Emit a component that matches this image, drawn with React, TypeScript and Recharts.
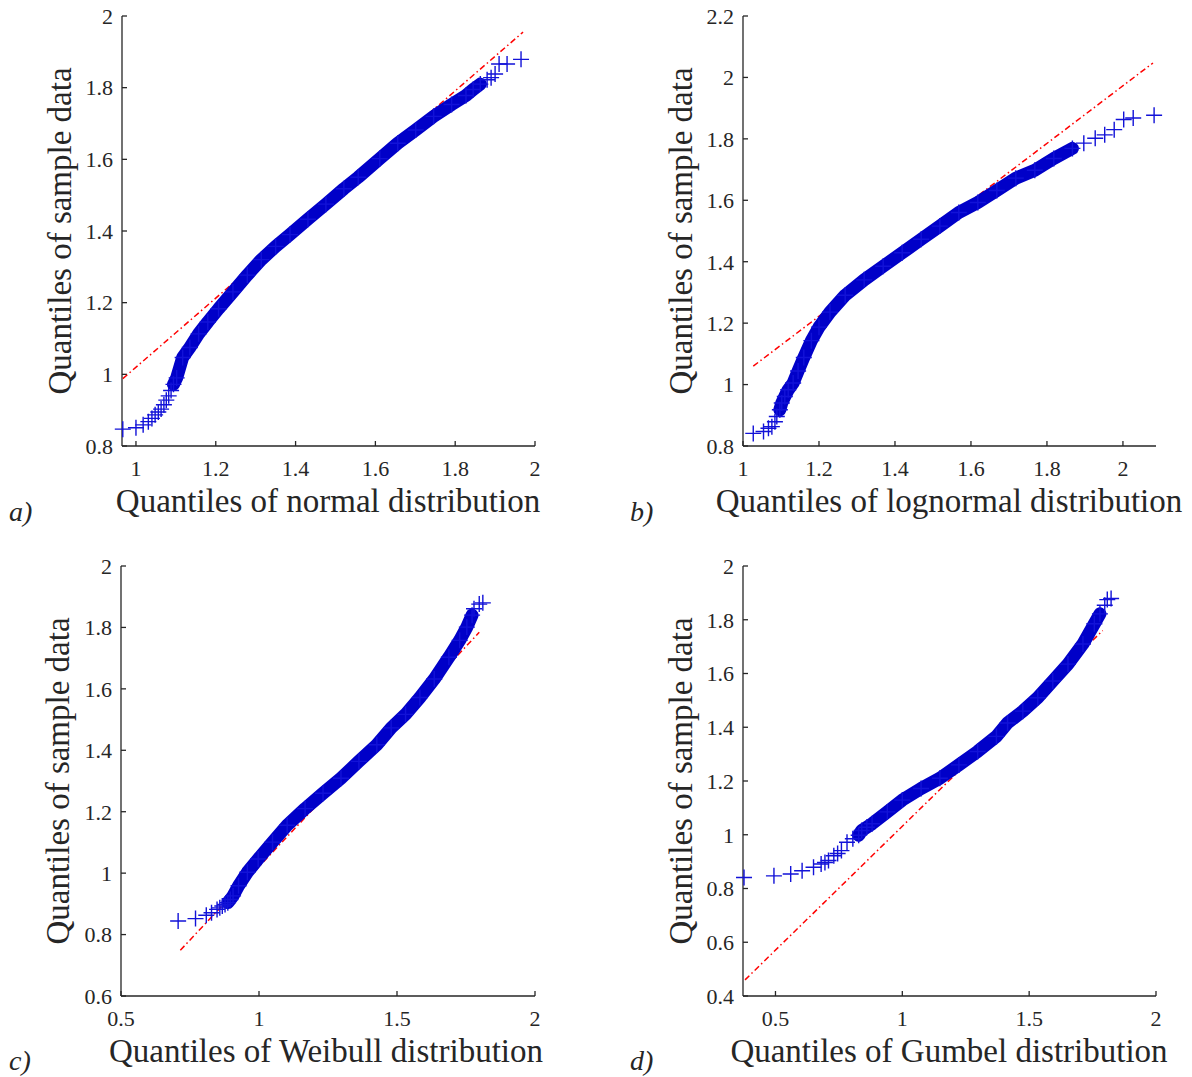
import React from 'react';
import { ScatterChart, Scatter, XAxis, YAxis } from 'recharts';

const SERIF = '"Liberation Serif", "Times New Roman", serif';
const INK = '#262626';

// a) normal
const normalX = [0.967, 1.0, 1.018, 1.031, 1.04, 1.048, 1.056, 1.063, 1.07, 1.076, 1.082, 1.088, 1.094, 1.102, 1.117, 1.135, 1.157, 1.18, 1.207, 1.243, 1.279, 1.314, 1.35, 1.386, 1.431, 1.476, 1.521, 1.557, 1.611, 1.656, 1.701, 1.746, 1.791, 1.827, 1.845, 1.863, 1.88, 1.89, 1.9, 1.91, 1.93, 1.965];
const normalY = [0.847, 0.851, 0.859, 0.868, 0.877, 0.887, 0.895, 0.903, 0.915, 0.928, 0.94, 0.955, 0.972, 0.99, 1.047, 1.075, 1.113, 1.146, 1.183, 1.23, 1.277, 1.32, 1.357, 1.39, 1.433, 1.475, 1.518, 1.55, 1.602, 1.645, 1.682, 1.72, 1.753, 1.778, 1.795, 1.81, 1.822, 1.828, 1.838, 1.866, 1.866, 1.879];
const normalRefX = [0.967, 1.97];
const normalRefY = [0.988, 1.955];

// b) lognormal
const lognX = [1.027, 1.054, 1.067, 1.076, 1.084, 1.089, 1.097, 1.102, 1.11, 1.119, 1.132, 1.145, 1.16, 1.18, 1.2, 1.229, 1.269, 1.319, 1.369, 1.419, 1.469, 1.518, 1.568, 1.618, 1.668, 1.718, 1.768, 1.818, 1.867, 1.897, 1.927, 1.952, 1.977, 2.002, 2.027, 2.082];
const lognY = [0.841, 0.847, 0.858, 0.863, 0.879, 0.896, 0.918, 0.94, 0.961, 0.983, 1.005, 1.044, 1.088, 1.143, 1.187, 1.236, 1.291, 1.341, 1.385, 1.429, 1.473, 1.516, 1.56, 1.593, 1.632, 1.672, 1.698, 1.736, 1.769, 1.786, 1.802, 1.813, 1.83, 1.863, 1.868, 1.877];
const lognRefX = [1.027, 2.079];
const lognRefY = [1.06, 2.047];

// c) Weibull
const weibX = [0.707, 0.77, 0.809, 0.828, 0.848, 0.858, 0.867, 0.877, 0.887, 0.896, 0.906, 0.926, 0.958, 0.997, 1.049, 1.102, 1.167, 1.232, 1.297, 1.362, 1.427, 1.479, 1.531, 1.583, 1.635, 1.688, 1.727, 1.753, 1.772, 1.779, 1.798, 1.811];
const weibY = [0.844, 0.852, 0.863, 0.871, 0.882, 0.887, 0.893, 0.898, 0.904, 0.914, 0.926, 0.959, 1.003, 1.046, 1.101, 1.156, 1.21, 1.26, 1.309, 1.364, 1.418, 1.473, 1.517, 1.572, 1.632, 1.703, 1.758, 1.801, 1.84, 1.861, 1.876, 1.88];
const weibRefX = [0.715, 1.798];
const weibRefY = [0.749, 1.784];

// d) Gumbel
const gumbX = [0.376, 0.494, 0.56, 0.605, 0.65, 0.68, 0.695, 0.709, 0.73, 0.745, 0.76, 0.782, 0.805, 0.828, 0.84, 0.86, 0.881, 0.941, 1.0, 1.074, 1.148, 1.223, 1.297, 1.371, 1.415, 1.475, 1.534, 1.593, 1.653, 1.712, 1.757, 1.779, 1.798, 1.808, 1.823];
const gumbY = [0.841, 0.847, 0.854, 0.866, 0.879, 0.891, 0.897, 0.904, 0.922, 0.93, 0.941, 0.972, 0.985, 0.998, 1.016, 1.028, 1.041, 1.085, 1.129, 1.172, 1.21, 1.26, 1.31, 1.366, 1.416, 1.46, 1.51, 1.572, 1.635, 1.71, 1.785, 1.822, 1.854, 1.875, 1.879];
const gumbRefX = [0.38, 1.79];
const gumbRefY = [0.46, 1.76];

const ticks02 = [0.8, 1, 1.2, 1.4, 1.6, 1.8, 2];

const Cross = (p: any) => (
  <path
    d={`M${p.cx - 8},${p.cy}H${p.cx + 8}M${p.cx},${p.cy - 8}V${p.cy + 8}`}
    stroke="#1212d8"
    strokeWidth={1.4}
    fill="none"
  />
);
const NoDot = () => <g />;

function QQPanel(props: any) {
  const { left, top, plotLeft, plotRight, xDomain, xTicks, yDomain, yTicks, xs, ys, band, refX, refY } = props;
  const points = xs.map((x: number, i: number) => ({ x, y: ys[i] }));
  const bandPts = points.filter((p: any) => p.y >= band[0] && p.y <= band[1]);
  const refPts = refX.map((x: number, i: number) => ({ x, y: refY[i] }));
  const tickStyle = { fill: INK, fontSize: 22, fontFamily: SERIF };
  return (
    <div style={{ position: 'absolute', left, top, width: 600, height: 540 }}>
      <ScatterChart
        width={600}
        height={540}
        margin={{ top: 16, right: 600 - plotRight, left: plotLeft - 60, bottom: 540 - 446 - 40 }}
      >
        <XAxis
          type="number"
          dataKey="x"
          domain={xDomain}
          ticks={xTicks}
          interval={0}
          height={40}
          tickSize={-5}
          tickMargin={19}
          tick={tickStyle}
          axisLine={{ stroke: INK, strokeWidth: 1.3 }}
          tickLine={{ stroke: INK, strokeWidth: 1.3 }}
        />
        <YAxis
          type="number"
          dataKey="y"
          domain={yDomain}
          ticks={yTicks}
          interval={0}
          width={60}
          tickSize={-5}
          tickMargin={14}
          tick={tickStyle}
          axisLine={{ stroke: INK, strokeWidth: 1.3 }}
          tickLine={{ stroke: INK, strokeWidth: 1.3 }}
        />
        <Scatter
          data={refPts}
          shape={NoDot}
          line={{ stroke: '#ff0000', strokeWidth: 1.5, strokeDasharray: '6 3 1.5 3' }}
          isAnimationActive={false}
        />
        <Scatter
          data={bandPts}
          shape={NoDot}
          line={{ stroke: '#0000c8', strokeWidth: 13, strokeLinejoin: 'round', strokeLinecap: 'round' }}
          isAnimationActive={false}
        />
        <Scatter data={points} shape={Cross} isAnimationActive={false} />
      </ScatterChart>
    </div>
  );
}

const textStyle = { fontFamily: SERIF, fill: INK };

export default function App() {
  return (
    <div style={{ position: 'absolute', left: 0, top: 0, width: 1192, height: 1077, background: '#fff' }}>
      <QQPanel
        left={0} top={0} plotLeft={122} plotRight={535}
        xDomain={[0.965, 2]} xTicks={[1, 1.2, 1.4, 1.6, 1.8, 2]}
        yDomain={[0.8, 2]} yTicks={ticks02}
        xs={normalX} ys={normalY} band={[0.96, 1.81]} refX={normalRefX} refY={normalRefY}
      />
      <QQPanel
        left={600} top={0} plotLeft={143} plotRight={556}
        xDomain={[1, 2.087]} xTicks={[1, 1.2, 1.4, 1.6, 1.8, 2]}
        yDomain={[0.8, 2.2]} yTicks={[0.8, 1, 1.2, 1.4, 1.6, 1.8, 2, 2.2]}
        xs={lognX} ys={lognY} band={[0.9, 1.77]} refX={lognRefX} refY={lognRefY}
      />
      <QQPanel
        left={0} top={550} plotLeft={121} plotRight={535}
        xDomain={[0.5, 2]} xTicks={[0.5, 1, 1.5, 2]}
        yDomain={[0.6, 2]} yTicks={[0.6, 0.8, 1, 1.2, 1.4, 1.6, 1.8, 2]}
        xs={weibX} ys={weibY} band={[0.9, 1.85]} refX={weibRefX} refY={weibRefY}
      />
      <QQPanel
        left={600} top={550} plotLeft={143} plotRight={556}
        xDomain={[0.372, 2]} xTicks={[0.5, 1, 1.5, 2]}
        yDomain={[0.4, 2]} yTicks={[0.4, 0.6, 0.8, 1, 1.2, 1.4, 1.6, 1.8, 2]}
        xs={gumbX} ys={gumbY} band={[0.995, 1.83]} refX={gumbRefX} refY={gumbRefY}
      />
      <svg width={1192} height={1077} style={{ position: 'absolute', left: 0, top: 0, pointerEvents: 'none' }}>
        <g style={textStyle} fontSize={33}>
          <text transform="translate(71,231) rotate(-90)" textAnchor="middle">Quantiles of sample data</text>
          <text transform="translate(692,231) rotate(-90)" textAnchor="middle">Quantiles of sample data</text>
          <text transform="translate(69,781) rotate(-90)" textAnchor="middle">Quantiles of sample data</text>
          <text transform="translate(692,781) rotate(-90)" textAnchor="middle">Quantiles of sample data</text>
          <text x={328} y={512} textAnchor="middle">Quantiles of normal distribution</text>
          <text x={949} y={512} textAnchor="middle">Quantiles of lognormal distribution</text>
          <text x={326} y={1062} textAnchor="middle">Quantiles of Weibull distribution</text>
          <text x={949} y={1062} textAnchor="middle">Quantiles of Gumbel distribution</text>
        </g>
        <g style={textStyle} fontSize={28} fontStyle="italic">
          <text x={9} y={521}>a)</text>
          <text x={630} y={521}>b)</text>
          <text x={9} y={1070}>c)</text>
          <text x={630} y={1070}>d)</text>
        </g>
      </svg>
    </div>
  );
}
